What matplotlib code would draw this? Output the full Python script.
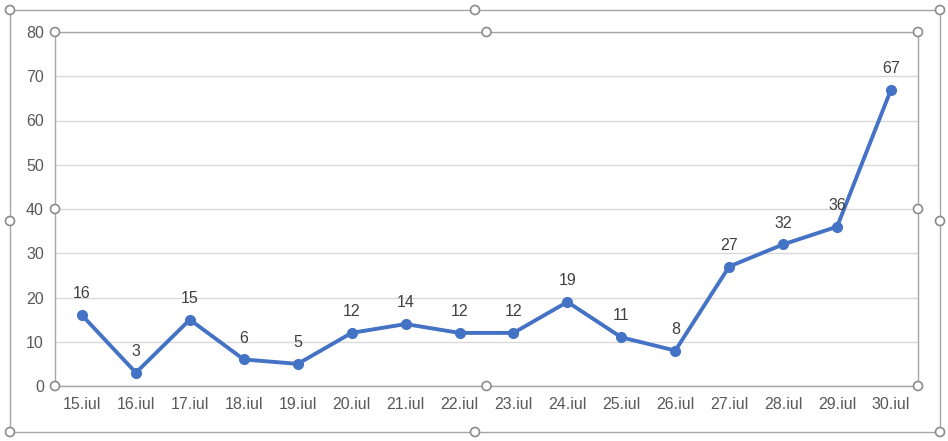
import matplotlib
matplotlib.use("Agg")
import matplotlib.pyplot as plt
from matplotlib.patches import Rectangle, Circle

labels = ["15.iul","16.iul","17.iul","18.iul","19.iul","20.iul","21.iul","22.iul",
          "23.iul","24.iul","25.iul","26.iul","27.iul","28.iul","29.iul","30.iul"]
values = [16,3,15,6,5,12,14,12,12,19,11,8,27,32,36,67]

W, H = 948, 441
fig = plt.figure(figsize=(W/100, H/100), dpi=100)
plt.rcParams['font.family'] = ['Liberation Sans', 'DejaVu Sans']
ax = fig.add_axes([55/W, 1-386/H, (918-55)/W, (386-32)/H])
x = list(range(len(values)))
ax.plot(x, values, color="#4472C4", lw=2.8, marker="o", ms=7, zorder=3)
for xi, v in zip(x, values):
    ax.annotate(str(v), (xi, v), xytext=(0, 10), textcoords="offset points",
                ha="center", va="bottom", fontsize=11.5, color="#404040")
ax.set_xlim(-0.5, len(values)-0.5)
ax.set_ylim(0, 80)
ax.set_yticks(range(0, 81, 10))
ax.set_xticks(x)
ax.set_xticklabels(labels)
ax.grid(axis="y", color="#D9D9D9", lw=1)
ax.set_axisbelow(True)
for s in ["top", "right", "left"]:
    ax.spines[s].set_visible(False)
ax.spines["bottom"].set_color("#BFBFBF")
ax.tick_params(length=0, labelsize=11.5, colors="#595959", pad=8)

ov = fig.add_axes([0, 0, 1, 1], facecolor="none")
ov.set_xlim(0, W); ov.set_ylim(H, 0); ov.axis("off")
for (x0, y0, x1, y1) in [(10, 10, 940, 432), (55, 32, 918, 386)]:
    ov.add_patch(Rectangle((x0, y0), x1-x0, y1-y0, fill=False, ec="#A6A6A6", lw=1))
    for px in (x0, (x0+x1)/2, x1):
        for py in (y0, (y0+y1)/2, y1):
            if px == (x0+x1)/2 and py == (y0+y1)/2:
                continue
            ov.add_patch(Circle((px, py), 4.5, fc="white", ec="#8C8C8C", lw=1.2))
fig.savefig("out.png", dpi=100)
